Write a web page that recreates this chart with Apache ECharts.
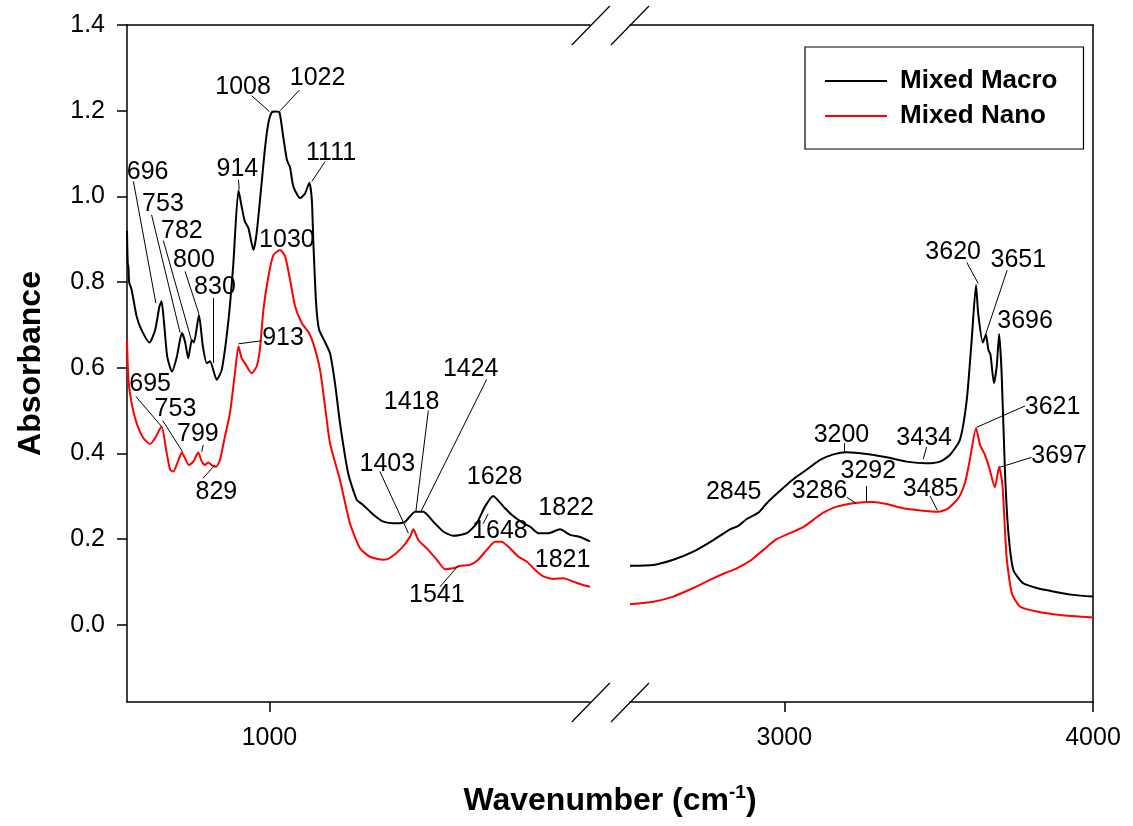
<!DOCTYPE html>
<html><head><meta charset="utf-8">
<script src="https://cdn.jsdelivr.net/npm/echarts@6/dist/echarts.min.js"></script>
<style>html,body{margin:0;padding:0;background:#fff}#c{width:1133px;height:826px}</style>
</head><body><div id="c"></div>
<script>
// ---- Data: Mixed Macro (black) ----
const macroLeftWn  = [600,602,604,606,613,627,641,663,679,691,697,704,713,726,740,754,763,772,782,788,802,813,824,833,852,866,884,898,913,922,931,941,955,964,978,987,996,1006,1017,1028,1038,1049,1058,1067,1086,1100,1112,1119,1123,1131,1139,1153,1170,1184,1198,1221,1245,1263,1292,1320,1357,1381,1409,1432,1460,1488,1516,1554,1582,1605,1628,1657,1680,1713,1732,1755,1783,1816,1844,1872,1900];
const macroLeftAbs = [0.92,0.845,0.835,0.80,0.782,0.72,0.688,0.659,0.688,0.743,0.755,0.705,0.626,0.591,0.626,0.681,0.661,0.622,0.665,0.659,0.723,0.65,0.611,0.615,0.572,0.595,0.704,0.836,1.015,0.976,0.941,0.926,0.875,0.914,1.031,1.109,1.167,1.196,1.198,1.196,1.143,1.085,1.067,1.023,0.996,1.007,1.032,0.992,0.898,0.75,0.69,0.665,0.634,0.564,0.471,0.354,0.292,0.28,0.257,0.241,0.237,0.241,0.264,0.264,0.241,0.218,0.208,0.214,0.237,0.276,0.301,0.276,0.257,0.237,0.229,0.214,0.214,0.223,0.21,0.205,0.195];
const macroRightWn  = [2500,2576,2640,2705,2770,2824,2851,2878,2916,2943,2986,3029,3072,3116,3159,3202,3267,3332,3396,3461,3504,3537,3569,3591,3607,3621,3628,3643,3653,3661,3668,3679,3688,3696,3704,3715,3726,3742,3774,3818,3871,3936,4000];
const macroRightAbs = [0.138,0.14,0.152,0.171,0.198,0.223,0.231,0.247,0.262,0.284,0.313,0.34,0.362,0.385,0.398,0.403,0.399,0.391,0.381,0.377,0.381,0.397,0.432,0.525,0.665,0.793,0.727,0.659,0.677,0.642,0.63,0.564,0.603,0.679,0.587,0.354,0.214,0.128,0.097,0.086,0.078,0.07,0.066];
// ---- Data: Mixed Nano (red) ----
const nanoLeftWn  = [600,604,613,627,646,665,679,697,710,721,730,741,754,763,774,786,800,810,819,828,838,850,861,875,889,903,913,922,931,950,964,973,983,997,1011,1030,1044,1058,1072,1091,1109,1123,1142,1156,1170,1198,1226,1254,1282,1320,1338,1371,1395,1404,1418,1441,1470,1493,1516,1535,1563,1586,1610,1633,1652,1675,1699,1722,1746,1769,1797,1825,1853,1881,1900];
const nanoLeftAbs = [0.665,0.572,0.517,0.471,0.436,0.422,0.436,0.463,0.408,0.362,0.358,0.377,0.402,0.389,0.373,0.381,0.402,0.381,0.373,0.379,0.373,0.369,0.385,0.44,0.494,0.587,0.65,0.622,0.611,0.587,0.603,0.642,0.735,0.813,0.863,0.875,0.86,0.805,0.743,0.704,0.684,0.657,0.595,0.51,0.424,0.338,0.237,0.179,0.159,0.152,0.156,0.179,0.206,0.223,0.198,0.179,0.152,0.13,0.132,0.138,0.14,0.152,0.175,0.194,0.194,0.179,0.159,0.148,0.128,0.113,0.107,0.109,0.101,0.093,0.089];
const nanoRightWn  = [2500,2576,2640,2705,2759,2808,2846,2894,2932,2970,3018,3061,3094,3126,3170,3223,3288,3332,3385,3440,3499,3531,3564,3585,3601,3621,3634,3650,3664,3682,3696,3707,3720,3737,3763,3818,3893,4000];
const nanoRightAbs = [0.048,0.054,0.066,0.086,0.105,0.121,0.132,0.152,0.175,0.198,0.214,0.228,0.245,0.262,0.276,0.284,0.287,0.282,0.272,0.267,0.264,0.272,0.296,0.331,0.385,0.459,0.42,0.397,0.366,0.321,0.369,0.323,0.159,0.074,0.043,0.031,0.023,0.017];

// ---- Tick values ----
const yTicks = [0, 0.2, 0.4, 0.6, 0.8, 1.0, 1.2, 1.4];
const xTicksLeft = [1000];
const xTicksRight = [3000, 4000];

// ---- Peak annotations (label text, label centre in data units) ----
const annLeftText = ['696','753','782','800','830','914','1008','1022','1111','1030','913','695','753','799','829','1403','1418','1424','1628','1648','1822','1821','1541'];
const annLeftWn   = [658,701,754,788,847,910,926,1135,1173,1049,1038,665,736,799,851,1331,1399,1565,1632,1647,1833,1823,1470];
const annLeftAbs  = [1.056,0.982,0.919,0.852,0.789,1.064,1.256,1.277,1.102,0.898,0.67,0.562,0.504,0.446,0.31,0.376,0.521,0.597,0.346,0.218,0.273,0.152,0.07];
// leader lines: [fromWn, fromAbs, toWn, toAbs]
const leadLeft = [
  [618,1.035,681,0.751],[669,0.957,749,0.682],[702,0.897,782,0.661],[763,0.825,802,0.726],
  [841,0.763,841,0.611],[913,1.039,915,1.017],[950,1.235,1000,1.198],[1084,1.248,1030,1.2],
  [1156,1.081,1119,1.035],[978,0.663,913,0.656],[625,0.533,697,0.463],[700,0.477,756,0.404],
  [814,0.42,810,0.404],[813,0.342,847,0.373],[1310,0.358,1390,0.214],[1446,0.5,1411,0.264],
  [1610,0.573,1425,0.264],[1600,0.236,1614,0.259],[1479,0.089,1530,0.138]
];
const annRightText = ['3620','3651','3696','3621','3697','3200','3434','2845','3286','3292','3485'];
const annRightWn   = [3547,3758,3780,3869,3890,3185,3453,2836,3114,3272,3474];
const annRightAbs  = [0.871,0.852,0.708,0.509,0.394,0.443,0.437,0.31,0.313,0.358,0.318];
const leadRight = [
  [3591,0.846,3628,0.797],[3722,0.828,3650,0.673],[3780,0.511,3623,0.461],[3801,0.391,3699,0.368],
  [3193,0.424,3193,0.402],[3461,0.415,3450,0.387],[3202,0.298,3232,0.284],[3267,0.324,3267,0.288],
  [3472,0.301,3496,0.267]
];

// ---- Build chart ----
const FONT = '"Liberation Sans", Arial, sans-serif';
const zip = (a, b) => a.map((v, i) => [v, b[i]]);
const G0 = {left: 127, top: 25, width: 463, height: 677};
const G1 = {left: 630, top: 25, width: 463, height: 677};
const YMIN = -0.18, YMAX = 1.4;

function lineSeries(name, color, xi, yi, wn, ab) {
  return {name, type: 'line', xAxisIndex: xi, yAxisIndex: yi, data: zip(wn, ab),
    symbol: 'none', showSymbol: false, smooth: 0.2, lineStyle: {color, width: 2}, itemStyle: {color},
    animation: false, silent: true, z: 3};
}
function labelSeries(xi, yi, txt, wn, ab, leads) {
  return {name: 'ann', type: 'scatter', xAxisIndex: xi, yAxisIndex: yi,
    data: txt.map((t, i) => [wn[i], ab[i], t]), symbolSize: 0,
    itemStyle: {color: 'rgba(0,0,0,0)', opacity: 1}, silent: true, animation: false, z: 4,
    label: {show: true, position: 'inside', formatter: p => p.value[2], opacity: 1,
      color: '#000000', textBorderWidth: 0, fontSize: 25, fontFamily: FONT},
    markLine: {silent: true, animation: false, symbol: ['none', 'none'],
      label: {show: false}, lineStyle: {color: '#000', width: 1, type: 'solid', opacity: 1},
      emphasis: {disabled: true},
      data: leads.map(l => [{coord: [l[0], l[1]]}, {coord: [l[2], l[3]]}])}
  };
}
const axLine = {show: true, onZero: false, lineStyle: {color: '#000', width: 1.5}};
const tickStyle = {lineStyle: {color: '#000', width: 1.5}};
const labStyle = {color: '#000', fontSize: 25, fontFamily: FONT};

const option = {
  backgroundColor: '#fff',
  animation: false,
  grid: [G0, G1],
  legend: {
    data: [{name: 'Mixed Macro', icon: 'rect'}, {name: 'Mixed Nano', icon: 'rect'}],
    orient: 'vertical', left: 805, top: 47,
    itemWidth: 62, itemHeight: 2, itemGap: 9,
    borderColor: '#000', borderWidth: 1.2, padding: [21, 26, 20, 20],
    textStyle: {fontSize: 26, fontWeight: 'bold', color: '#000', fontFamily: FONT, padding: [0, 0, 0, 8]}
  },
  xAxis: [
    {type: 'value', gridIndex: 0, min: 600, max: 1900, position: 'bottom',
     axisLine: axLine, splitLine: {show: false},
     axisTick: {show: true, inside: false, length: 10, customValues: xTicksLeft, ...tickStyle},
     axisLabel: {...labStyle, margin: 24, customValues: xTicksLeft, formatter: v => String(v)}},
    {type: 'value', gridIndex: 1, min: 2500, max: 4000, position: 'bottom',
     axisLine: axLine, splitLine: {show: false},
     axisTick: {show: true, inside: false, length: 10, customValues: xTicksRight, ...tickStyle},
     axisLabel: {...labStyle, margin: 24, customValues: xTicksRight, formatter: v => String(v)}},
    {type: 'value', gridIndex: 0, min: 600, max: 1900, position: 'top',
     axisLine: axLine, axisTick: {show: false}, axisLabel: {show: false}, splitLine: {show: false}},
    {type: 'value', gridIndex: 1, min: 2500, max: 4000, position: 'top',
     axisLine: axLine, axisTick: {show: false}, axisLabel: {show: false}, splitLine: {show: false}}
  ],
  yAxis: [
    {type: 'value', gridIndex: 0, min: YMIN, max: YMAX, position: 'left',
     axisLine: axLine, splitLine: {show: false},
     axisTick: {show: true, inside: false, length: 10, customValues: yTicks, ...tickStyle},
     axisLabel: {...labStyle, margin: 22, customValues: yTicks, formatter: v => v.toFixed(1)},
     name: 'Absorbance', nameLocation: 'middle', nameGap: 80, nameRotate: 90,
     nameTextStyle: {fontSize: 32, fontWeight: 'bold', color: '#000', fontFamily: FONT}},
    {type: 'value', gridIndex: 1, min: YMIN, max: YMAX, position: 'right',
     axisLine: axLine, axisTick: {show: false}, axisLabel: {show: false}, splitLine: {show: false}}
  ],
  series: [
    lineSeries('Mixed Macro', '#000000', 0, 0, macroLeftWn, macroLeftAbs),
    lineSeries('Mixed Nano', '#ff0000', 0, 0, nanoLeftWn, nanoLeftAbs),
    lineSeries('Mixed Macro', '#000000', 1, 1, macroRightWn, macroRightAbs),
    lineSeries('Mixed Nano', '#ff0000', 1, 1, nanoRightWn, nanoRightAbs),
    labelSeries(0, 0, annLeftText, annLeftWn, annLeftAbs, leadLeft),
    labelSeries(1, 1, annRightText, annRightWn, annRightAbs, leadRight)
  ],
  graphic: []
};

const chart = echarts.init(document.getElementById('c'), null, {renderer: 'canvas'});
chart.setOption(option);

// axis-break marks and x-axis title, placed from the grid geometry
const gEnd = G0.left + G0.width, gStart = G1.left;
const yTop = G0.top, yBot = G0.top + G0.height;
const slash = (cx, cy) => ({type: 'line', silent: true, z: 10,
  shape: {x1: cx - 19, y1: cy + 19.5, x2: cx + 19, y2: cy - 19.5},
  style: {stroke: '#000', lineWidth: 1.2}});
chart.setOption({graphic: [
  slash(gEnd + 0.8, yTop + 0.5), slash(gStart, yTop + 0.5),
  slash(gEnd + 0.8, yBot + 0.5), slash(gStart, yBot + 0.5),
  {type: 'text', silent: true, x: (G0.left + G1.left + G1.width) / 2, y: 801,
   style: {text: '{a|Wavenumber (cm}{s|-1}{a|)}', align: 'center', verticalAlign: 'middle',
     rich: {a: {fontSize: 32, fontWeight: 'bold', fill: '#000', fontFamily: FONT},
            s: {fontSize: 19, fontWeight: 'bold', fill: '#000', fontFamily: FONT, padding: [0, 0, 16, 0]}}}}
]});
</script></body></html>
